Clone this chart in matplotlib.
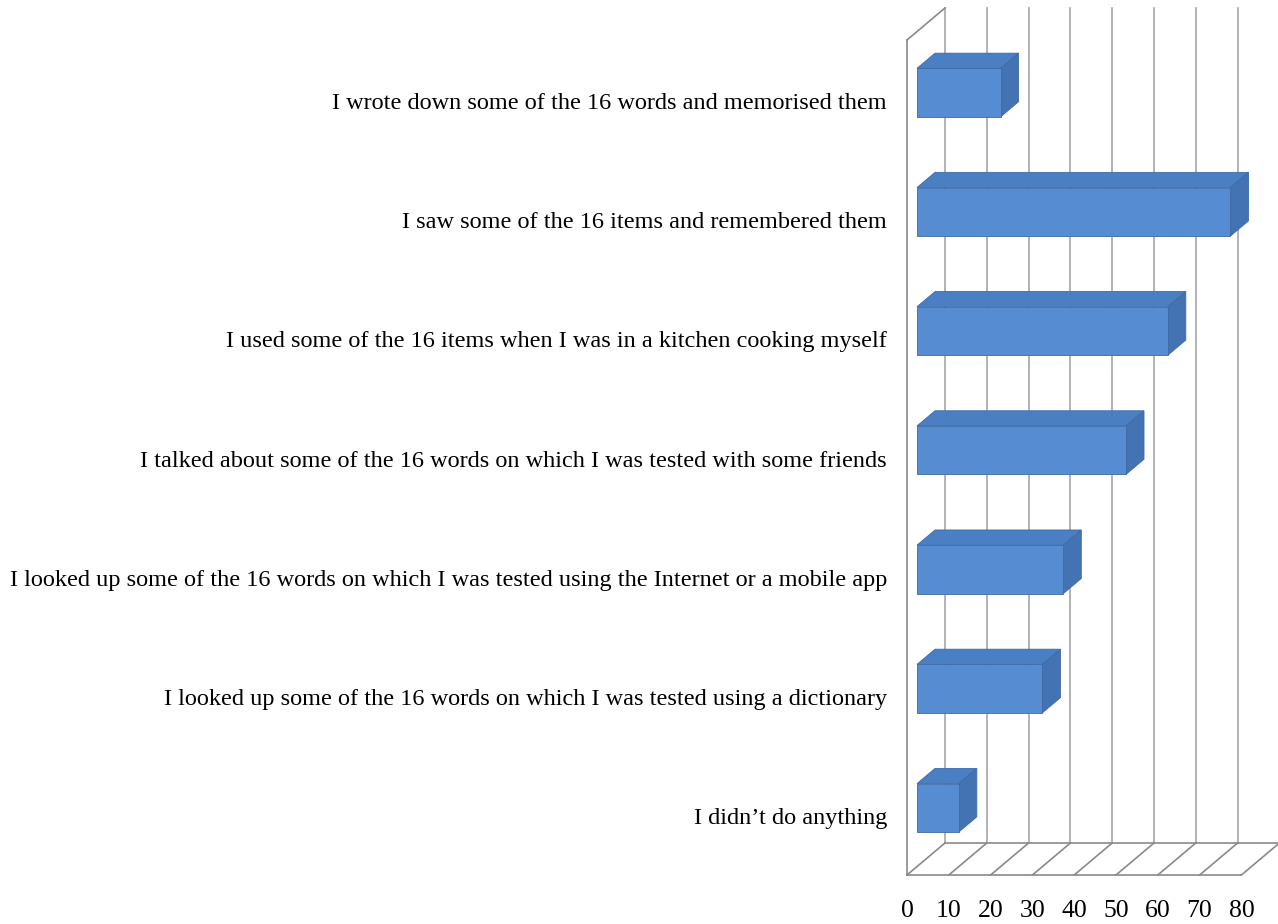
import matplotlib.pyplot as plt
from matplotlib.patches import Polygon

# Respuestas de la encuesta (de arriba hacia abajo)
categorias = [
    "I wrote down some of the 16 words and memorised them",
    "I saw some of the 16 items and remembered them",
    "I used some of the 16 items when I was in a kitchen cooking myself",
    "I talked about some of the 16 words on which I was tested with some friends",
    "I looked up some of the 16 words on which I was tested using the Internet or a mobile app",
    "I looked up some of the 16 words on which I was tested using a dictionary",
    "I didn\u2019t do anything",
]
valores = [20, 75, 60, 50, 35, 30, 10]
ticks_x = [0, 10, 20, 30, 40, 50, 60, 70, 80]

# Geometria del grafico 3D (proyeccion oblicua)
PX_X = 4.18            # pixeles por unidad en x
PX_Y = 119.2           # pixeles por categoria
DX = 38 / PX_X         # desplazamiento de profundidad en x
DY = 32 / PX_Y         # desplazamiento de profundidad en y (hacia arriba)
Y_PISO = 6.493         # borde frontal del piso
Y_TECHO = -0.512       # parte superior de la pared izquierda
ALTO_BARRA = 48.5 / PX_Y
P0, P1 = 0.263, 0.737  # profundidad de la barra (frente, fondo)

plt.rcParams['font.family'] = ['Liberation Serif', 'DejaVu Serif']

fig = plt.figure(figsize=(12.78, 9.24), dpi=100)
x0 = 907 / 1278
ax = fig.add_axes([x0, 1 - 875 / 924, 1 - x0, 875 / 924])
ax.set_xlim(0, 371 / PX_X)
ax.set_ylim(Y_PISO, -101 / PX_Y)
for s in ax.spines.values():
    s.set_visible(False)

gris = '#a6a6a6'
gris_osc = '#8a8a8a'

# Pared del fondo: lineas de division verticales
for v in ticks_x:
    ax.plot([v + DX, v + DX], [Y_TECHO - DY, Y_PISO - DY], color=gris, lw=1.2, zorder=1,
            clip_on=False)

# Pared izquierda
ax.plot([0, 0], [Y_TECHO, Y_PISO], color=gris_osc, lw=1.2, zorder=1, clip_on=False)
ax.plot([0, DX], [Y_TECHO, Y_TECHO - DY], color=gris_osc, lw=1.2, zorder=1, clip_on=False)

# Piso
ax.plot([0, ticks_x[-1]], [Y_PISO, Y_PISO], color=gris_osc, lw=1.2, zorder=1, clip_on=False)
ax.plot([DX, ticks_x[-1] + DX], [Y_PISO - DY, Y_PISO - DY], color=gris_osc, lw=1.2, zorder=1,
        clip_on=False)
for v in ticks_x:
    ax.plot([v, v + DX], [Y_PISO, Y_PISO - DY], color=gris_osc, lw=1.2, zorder=1, clip_on=False)

# Barras 3D
c_frente = '#558cd2'
c_arriba = '#4b7fc3'
c_lado = '#4373b3'
for i, v in enumerate(valores):
    xf, yf = P0 * DX, i - P0 * DY
    xb, yb = P1 * DX, i - P1 * DY
    h = ALTO_BARRA / 2
    frente = [(xf, yf - h), (xf + v, yf - h), (xf + v, yf + h), (xf, yf + h)]
    arriba = [(xf, yf - h), (xf + v, yf - h), (xb + v, yb - h), (xb, yb - h)]
    lado = [(xf + v, yf - h), (xb + v, yb - h), (xb + v, yb + h), (xf + v, yf + h)]
    for pts, col in [(arriba, c_arriba), (lado, c_lado), (frente, c_frente)]:
        ax.add_patch(Polygon(pts, closed=True, facecolor=col, edgecolor='#3e6aa6',
                             lw=0.6, zorder=3))

# Etiquetas de categorias
ax.set_yticks(range(len(categorias)))
ax.set_yticklabels(categorias, fontsize=17.5)
ax.tick_params(axis='y', length=0, pad=14.4)

# Etiquetas del eje x
ax.set_xticks(ticks_x)
ax.set_xticklabels([str(t) for t in ticks_x], fontsize=18.5)
ax.tick_params(axis='x', length=0, pad=18)

fig.savefig('out.png', dpi=100)
